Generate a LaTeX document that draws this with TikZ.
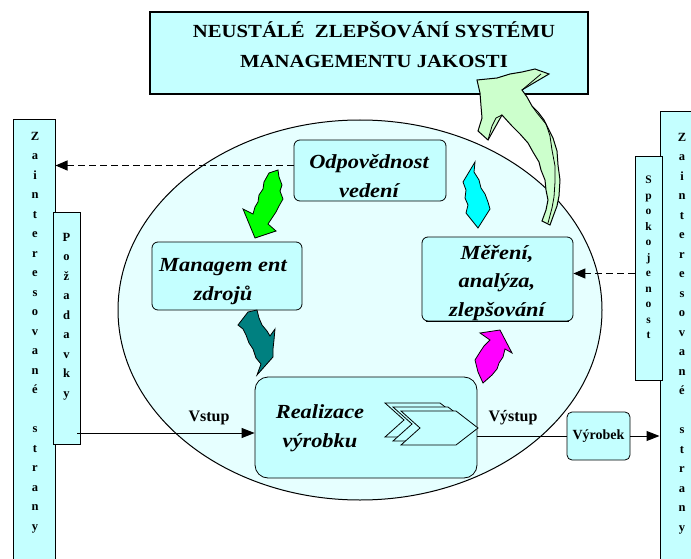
\documentclass[tikz,border=0pt]{standalone}
\usepackage{fontspec}
\setmainfont{Liberation Serif}
\newfontfamily\wide{Liberation Serif}[FakeStretch=1.12]
\usetikzlibrary{arrows.meta,calc,shapes.geometric}
\definecolor{boxc}{HTML}{C4FFFF}
\definecolor{ellc}{HTML}{E6FFFF}
\definecolor{bgreen}{HTML}{00FF00}
\definecolor{bteal}{HTML}{008080}
\definecolor{bcyan}{HTML}{00FFFF}
\definecolor{bmag}{HTML}{FF00FF}
\definecolor{bpale}{HTML}{CCFFCC}
\tikzset{
  cbox/.style={draw, fill=boxc, rounded corners=6pt, line width=0.8pt, inner sep=0pt},
  tallbox/.style={draw, fill=boxc, line width=1pt, inner sep=0pt},
  btext/.style={font=\wide\bfseries\itshape\fontsize{20}{29}\selectfont, align=center, inner sep=0pt, anchor=base},
  letters/.style={font=\bfseries\fontsize{12.5}{19.5}\selectfont, align=center, inner sep=0pt, anchor=north},
  lbl/.style={font=\bfseries\fontsize{16}{18}\selectfont, inner sep=0pt, anchor=base},
  dasharr/.style={line width=1.1pt, dash pattern=on 7pt off 4pt, -{Triangle[length=12pt,width=10pt]}},
  solarr/.style={line width=1pt, -{Triangle[length=13pt,width=10pt]}},
  chev/.style={draw, fill=boxc, line width=0.8pt, line join=miter}
}
\begin{document}
\begin{tikzpicture}[x=1pt,y=-1pt]
\useasboundingbox (0,0) rectangle (691,559);
\fill[white] (0,0) rectangle (691,559);

% ellipse
\node[draw, fill=ellc, ellipse, line width=1pt, minimum width=484pt, minimum height=380pt, inner sep=0pt] (ell) at (360,310) {};

% title
\node[draw, fill=boxc, line width=1.3pt, minimum width=438pt, minimum height=82pt, inner sep=0pt] (title) at (369,53) {};
\node[font=\wide\bfseries\fontsize{18.5}{30}\selectfont, align=center, inner sep=0pt, anchor=base] (titleT) at (374,68) {NEUSTÁLÉ\ \ ZLEPŠOVÁNÍ SYSTÉMU\\MANAGEMENTU JAKOSTI};

% side boxes
\node[tallbox, minimum width=42pt, minimum height=445pt] (lz) at (34,342.5) {};
\node[letters] (lzT) at (35,132) {Z\\a\\i\\n\\t\\e\\r\\e\\s\\o\\v\\a\\n\\é\\[19.5pt]s\\t\\r\\a\\n\\y};
\node[tallbox, minimum width=27pt, minimum height=232pt] (poz) at (66.5,328) {};
\node[letters] (pozT) at (66.5,233) {P\\o\\ž\\a\\d\\a\\v\\k\\y};

\node[tallbox, minimum width=42pt, minimum height=452pt] (rz) at (681,338) {};
\node[letters] (rzT) at (682,133) {Z\\a\\i\\n\\t\\e\\r\\e\\s\\o\\v\\a\\n\\é\\[19.5pt]s\\t\\r\\a\\n\\y};
\node[tallbox, minimum width=27pt, minimum height=223pt] (spok) at (648.5,268.5) {};
\node[letters, font=\bfseries\fontsize{11.5}{15.5}\selectfont] (spokT) at (648.5,176) {S\\p\\o\\k\\o\\j\\e\\n\\o\\s\\t};

% process boxes
\node[cbox, minimum width=152pt, minimum height=61pt] (odp) at (370,170.5) {};
\node[btext] (odpT) at (369,197) {Odpovědnost\\vedení};
\node[cbox, minimum width=150pt, minimum height=68pt] (man) at (227,276) {};
\node[btext] (manT) at (223,300) {Managem ent\\zdrojů};
\node[cbox, minimum width=151pt, minimum height=84pt] (mer) at (497.5,279) {};
\node[btext, font=\wide\bfseries\itshape\fontsize{20}{28.5}\selectfont] (merT) at (497,316) {Měření,\\analýza,\\zlepšování};
\draw[line width=0.8pt] (mer.south west) ++(4,0) -- ($(mer.south east)+(-4,0)$);
\node[cbox, rounded corners=13pt, minimum width=222pt, minimum height=101pt] (real) at (366,427.5) {};
\node[btext] (realT) at (320,447) {Realizace\\výrobku};

% chevrons
\foreach \dx/\dy in {0/0,8/4,16/8}{
  \draw[chev] (385+\dx,403+\dy) -- ++(55,0) -- ++(22,17) -- ++(-22,17) -- ++(-55,0) -- ++(19,-17) -- cycle;
}

% product
\node[cbox, rounded corners=5pt, minimum width=63pt, minimum height=48pt, font=\bfseries\fontsize{14}{16}\selectfont] (vyr) at (598.5,436) {Výrobek};

% connectors
\coordinate (vy) at (0,433);
\coordinate (vin) at (77,433);
\draw[solarr] (vin) -- (real.west |- vy);
\node[lbl] (vstup) at (209,421) {Vstup};
\draw[line width=1pt] (real.east |- vyr.west) -- (vyr.west);
\node[lbl] (vystup) at (513,421) {Výstup};
\draw[solarr] (vyr.east) -- (rz.west |- vyr.east);

\draw[dasharr] ($(odp.west)+(0,-5)$) -- ($(odp.west -| lz.east)+(0,-5)$);
\draw[dasharr] ($(spok.west)+(0,5)$) -- ($(spok.west -| mer.east)+(0,5)$);

% ragged arrows
\fill[bgreen, draw=black, line width=0.8pt] (269,173) -- (278,170) -- (279,177) -- (282,185) -- (280,191) -- (283,199) -- (279,206) -- (276,212) -- (272,218) -- (268,224) -- (276,231) -- (255,238) -- (243,209) -- (253,214) -- (255,207) -- (258,202) -- (259,195) -- (263,189) -- (264,182) -- cycle;
\fill[bteal, draw=black, line width=0.8pt] (248,312) -- (257,310) -- (259,318) -- (262,325) -- (267,331) -- (270,336) -- (275,329) -- (274,340) -- (273,349) -- (273,357) -- (257,375) -- (261,364) -- (256,358) -- (253,349) -- (249,343) -- (246,335) -- (243,329) -- (238,325) -- cycle;
\fill[bcyan, draw=black, line width=0.8pt] (475,162) -- (463,182) -- (466,190) -- (465,198) -- (468,205) -- (466,213) -- (478,228) -- (490,209) -- (488,202) -- (485,194) -- (481,188) -- (479,180) -- (474,172) -- cycle;
\fill[bmag, draw=black, line width=0.8pt] (480,333) -- (500,330) -- (512,353) -- (505,349) -- (503,357) -- (499,363) -- (497,369) -- (492,375) -- (483,383) -- (478,372) -- (475,360) -- (480,352) -- (484,346) -- (490,340) -- cycle;

% big pale arrow
\fill[bpale, draw=black, line width=1pt, line join=miter] (477,80) -- (497,78) -- (510,74) -- (522,72) -- (535,69) -- (549,74) -- (532,84) -- (522,90) -- (527,97) -- (532,106) -- (538,112) -- (544,120) -- (548,128) -- (553,138) -- (557,151) -- (558,165) -- (560,180) -- (559,196) -- (557,206) -- (554,214) -- (550,225) -- (542,221) -- (546,210) -- (548,200) -- (546,190) -- (545,180) -- (541,170) -- (539,162) -- (533,152) -- (528,143) -- (520,134) -- (512,126) -- (502,115) -- (488,140) -- (478,131) -- (482,118) -- (481,106) -- (480,93) -- cycle;
\draw[line width=0.8pt] (522,90) -- (541,74);
\draw[line width=0.8pt] (532,106) -- (537,113) -- (546,124) -- (550,136) -- (552,150) -- (555,166) -- (555,182) -- (554,197) -- (552,208) -- (548,223);
\draw[line width=0.8pt] (502,115) -- (496,118) -- (492,126) -- (488,140);
\end{tikzpicture}
\end{document}
